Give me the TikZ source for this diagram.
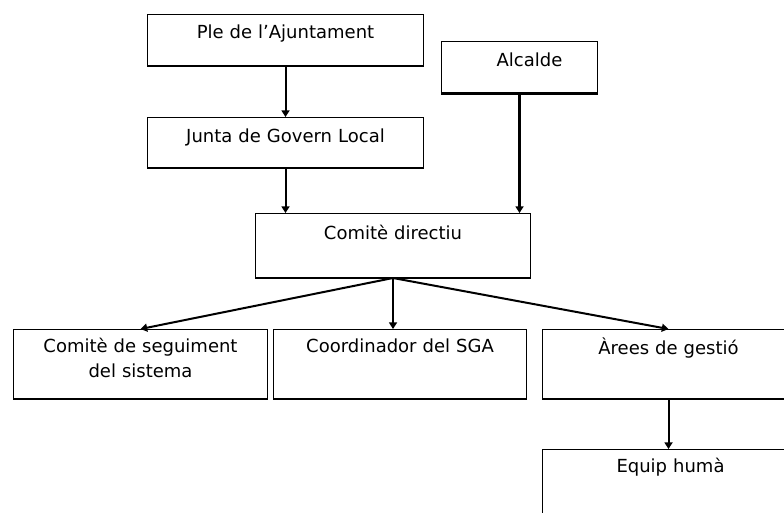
\documentclass[tikz,border=0pt]{standalone}
\usepackage{fontspec}
\setmainfont{DejaVu Sans}[WordSpace=1.5]
\usetikzlibrary{arrows.meta}

\tikzset{
  box/.style={draw, line width=0.75pt, anchor=north west, inner sep=0pt, align=center,
    font=\fontsize{13.5}{18.75}\selectfont},
  arr/.style={line width=1.5pt, -{Triangle[length=5pt,width=6pt]}}
}

\begin{document}
\begin{tikzpicture}[x=0.75pt,y=-0.75pt]
\useasboundingbox (0,0) rectangle (784,512);

\node[box, text width=207pt, text height=18pt, text depth=20.25pt] (ple) at (147,14) {Ple de l'Ajuntament};
\node[box, text width=207pt, text height=18.75pt, text depth=18.75pt] (junta) at (147,117) {Junta de Govern Local};
\node[box, text width=117pt, text height=18.75pt, text depth=19.5pt] (alcalde) at (441,41) {\hspace*{15pt}Alcalde};
\node[box, text width=206.25pt, text height=19.5pt, text depth=28.5pt] (comite) at (255,213) {Comitè directiu};
\node[box, text width=190.5pt, text height=17.25pt, text depth=34.5pt] (seguiment) at (13,329) {Comitè de seguiment\\del sistema};
\node[box, text width=189.75pt, text height=17.25pt, text depth=34.5pt] (coord) at (273,329) {Coordinador del SGA};
\node[box, text width=189pt, text height=18.75pt, text depth=33pt] (arees) at (542,329) {Àrees de gestió};
\node[box, text width=192pt, text height=17.25pt, text depth=42.75pt] (equip) at (542,449) {Equip humà};

\foreach \n in {ple, junta, comite, seguiment, coord, arees}
	\draw[line width=1.5pt] (\n.south west) -- (\n.south east);
\draw[line width=2.25pt] (alcalde.south west) -- (alcalde.south east);

\draw[arr] (ple) -- (junta);
\draw[arr] (junta) -- (junta |- comite.north);
\draw[arr, line width=2.25pt] (alcalde) -- (alcalde |- comite.north);

\foreach \to in {seguiment, arees}
	\draw[arr] (comite.south) -- (\to.north);
\draw[arr] (comite.south) -- (comite.south |- coord.north);
\draw[arr] (arees) -- (arees |- equip.north);

\end{tikzpicture}
\end{document}
